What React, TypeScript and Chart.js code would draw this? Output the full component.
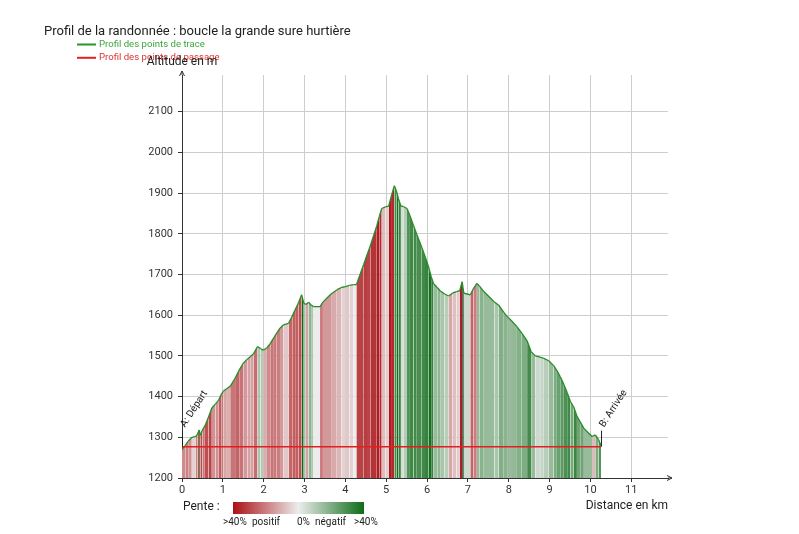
import React, { useEffect, useRef } from 'react';
import { Chart, registerables } from 'chart.js';

Chart.register(...registerables);

// ---- data ----
const distancesKm = [
  0.0, 0.08, 0.15, 0.24, 0.34, 0.38, 0.42, 0.45, 0.5, 0.56, 0.65, 0.73, 0.82, 0.89, 0.96, 1.01,
  1.1, 1.18, 1.3, 1.4, 1.5, 1.6, 1.67, 1.75, 1.85, 1.92, 1.99, 2.08, 2.16, 2.25, 2.32, 2.4,
  2.48, 2.61, 2.7, 2.77, 2.85, 2.93, 2.98, 3.03, 3.1, 3.16, 3.22, 3.38, 3.45, 3.55, 3.65, 3.79,
  3.9, 4.0, 4.1, 4.2, 4.27, 4.36, 4.45, 4.53, 4.61, 4.69, 4.77, 4.83, 4.89, 4.98, 5.06, 5.14,
  5.2, 5.25, 5.3, 5.36, 5.42, 5.51, 5.58, 5.67, 5.75, 5.87, 5.95, 6.04, 6.1, 6.16, 6.25, 6.32,
  6.43, 6.53, 6.62, 6.72, 6.8, 6.86, 6.9, 6.98, 7.06, 7.14, 7.22, 7.28, 7.39, 7.47, 7.55, 7.65,
  7.75, 7.88, 7.96, 8.08, 8.2, 8.32, 8.45, 8.55, 8.65, 8.77, 8.86, 8.98, 9.1, 9.18, 9.26, 9.35,
  9.43, 9.51, 9.59, 9.67, 9.75, 9.84, 9.96, 10.04, 10.12, 10.2, 10.26,
];
const altitudesM = [
  1270, 1280, 1290, 1300, 1302, 1308, 1318, 1305, 1318, 1328, 1350, 1372, 1382, 1390, 1405, 1413,
  1420, 1425, 1445, 1465, 1482, 1492, 1498, 1505, 1523, 1518, 1514, 1520, 1530, 1545, 1556, 1568,
  1576, 1580, 1598, 1613, 1630, 1650, 1630, 1626, 1632, 1625, 1621, 1621, 1632, 1642, 1652, 1662,
  1668, 1670, 1673, 1675, 1675, 1700, 1725, 1748, 1770, 1795, 1820, 1842, 1862, 1866, 1868, 1898,
  1918, 1905, 1886, 1868, 1867, 1862, 1845, 1820, 1798, 1767, 1745, 1718, 1695, 1677, 1668, 1660,
  1652, 1647, 1654, 1658, 1660, 1682, 1654, 1652, 1650, 1666, 1678, 1672, 1658, 1650, 1642, 1632,
  1625, 1607, 1597, 1585, 1572, 1556, 1537, 1510, 1500, 1497, 1494, 1488, 1476, 1464, 1449, 1430,
  1410, 1388, 1375, 1352, 1338, 1322, 1310, 1302, 1306, 1294, 1280,
];
const passageKm = [0, 10.26];
const passageAlt = [1277, 1277];
const passageLabels = ['A: Départ', 'B: Arrivée'];
const xTickValues = [0, 1, 2, 3, 4, 5, 6, 7, 8, 9, 10, 11];
const yTickValues = [1200, 1300, 1400, 1500, 1600, 1700, 1800, 1900, 2000, 2100];
const titleText = 'Profil de la randonnée : boucle la grande sure hurtière';
const legendLabels = ['Profil des points de trace', 'Profil des points de passage'];
const penteLabels = ['>40%', 'positif', '0%', 'négatif', '>40%'];
const xAxisTitle = 'Distance en km';
const yAxisTitle = 'Altitude en m';

// ---- styling helpers ----
const LIGHT = [236, 236, 236];
const RED = [170, 16, 20];
const GREEN = [14, 108, 24];
const DARK = [25, 22, 22];
const FONT = 'Roboto, "Noto Sans", sans-serif';

function mix(a: number[], b: number[], k: number) {
  return a.map((v, i) => Math.round(v + (b[i] - v) * k));
}
function slopeColor(s: number) {
  const base = s >= 0 ? RED : GREEN;
  const t = Math.abs(s) / 0.4;
  let c: number[];
  if (t <= 1) c = mix(LIGHT, base, Math.pow(t, 0.7));
  else c = mix(base, DARK, Math.min(1, (t - 1) * 0.8));
  return `rgb(${c[0]},${c[1]},${c[2]})`;
}

const decorPlugin = {
  id: 'decor',
  afterDraw(chart: any) {
    const { ctx, chartArea, scales } = chart;
    const xs = scales.x;
    const ys = scales.y;
    ctx.save();
    // title
    ctx.fillStyle = '#222';
    ctx.font = `13px ${FONT}`;
    ctx.textBaseline = 'alphabetic';
    ctx.textAlign = 'left';
    ctx.fillText(titleText, 44, 35);
    // legend
    const legendColors = ['rgb(40,150,40)', 'rgb(225,35,35)'];
    const legendText = ['rgb(60,165,60)', 'rgb(220,50,50)'];
    legendLabels.forEach((lab, i) => {
      const y = 44.5 + i * 13.3;
      ctx.strokeStyle = legendColors[i];
      ctx.lineWidth = 2;
      ctx.beginPath();
      ctx.moveTo(77, y);
      ctx.lineTo(96, y);
      ctx.stroke();
      ctx.fillStyle = legendText[i];
      ctx.font = `9.6px ${FONT}`;
      ctx.textBaseline = 'middle';
      ctx.fillText(lab, 99, y);
    });
    // axis arrows
    ctx.strokeStyle = '#333';
    ctx.lineWidth = 1;
    const ax = chartArea.left;
    const ay = chartArea.bottom;
    ctx.beginPath();
    ctx.moveTo(ax, chartArea.top);
    ctx.lineTo(ax, chartArea.top - 4);
    ctx.moveTo(ax - 2.5, chartArea.top + 1);
    ctx.lineTo(ax, chartArea.top - 4);
    ctx.lineTo(ax + 2.5, chartArea.top + 1);
    ctx.moveTo(chartArea.right, ay);
    ctx.lineTo(chartArea.right + 4, ay);
    ctx.moveTo(chartArea.right - 1, ay - 2.5);
    ctx.lineTo(chartArea.right + 4, ay);
    ctx.lineTo(chartArea.right - 1, ay + 2.5);
    ctx.stroke();
    // axis titles
    ctx.fillStyle = '#222';
    ctx.font = `12px ${FONT}`;
    ctx.textAlign = 'center';
    ctx.textBaseline = 'middle';
    ctx.fillText(yAxisTitle, ax, 62);
    ctx.textAlign = 'right';
    ctx.fillText(xAxisTitle, chartArea.right, 506);
    // pente legend
    ctx.textAlign = 'left';
    ctx.fillText('Pente :', 183, 507);
    const gx0 = 233, gx1 = 364;
    const grad = ctx.createLinearGradient(gx0, 0, gx1, 0);
    grad.addColorStop(0, `rgb(${RED.join(',')})`);
    grad.addColorStop(0.5, `rgb(${LIGHT.join(',')})`);
    grad.addColorStop(1, `rgb(${GREEN.join(',')})`);
    ctx.fillStyle = grad;
    ctx.fillRect(gx0, 502, gx1 - gx0, 12);
    ctx.fillStyle = '#222';
    ctx.font = `10px ${FONT}`;
    const penteX = [223, 252, 297, 315, 354];
    penteLabels.forEach((lab, i) => ctx.fillText(lab, penteX[i], 522));
    // passage annotations
    passageLabels.forEach((lab, i) => {
      const px = xs.getPixelForValue(passageKm[i]);
      const py = ys.getPixelForValue(passageAlt[i]);
      ctx.strokeStyle = '#222';
      ctx.lineWidth = 1;
      ctx.beginPath();
      ctx.moveTo(px + 0.5, py);
      ctx.lineTo(px + 0.5, py - 16);
      ctx.stroke();
      ctx.save();
      ctx.translate(px + 3, py - 19);
      ctx.rotate((-57 * Math.PI) / 180);
      ctx.fillStyle = '#222';
      ctx.font = `10px ${FONT}`;
      ctx.textAlign = 'left';
      ctx.textBaseline = 'alphabetic';
      ctx.fillText(lab, 0, 0);
      ctx.restore();
    });
    ctx.restore();
  },
};

export default function App() {
  const canvasRef = useRef<HTMLCanvasElement | null>(null);
  useEffect(() => {
    const canvas = canvasRef.current;
    if (!canvas) return;
    const profile = distancesKm.map((d, i) => ({ x: d, y: altitudesM[i] }));
    const passage = passageKm.map((d, i) => ({ x: d, y: passageAlt[i] }));
    const chart = new Chart(canvas, {
      type: 'line',
      data: {
        datasets: [
          {
            label: legendLabels[1],
            data: passage,
            borderColor: 'rgb(228,30,30)',
            borderWidth: 1.5,
            pointRadius: 0,
            fill: false,
            order: 0,
          },
          {
            label: legendLabels[0],
            data: profile,
            borderColor: 'rgb(40,140,40)',
            borderWidth: 1.3,
            pointRadius: 0,
            tension: 0,
            fill: 'start',
            backgroundColor: 'rgb(236,236,236)',
            segment: {
              backgroundColor: (c: any) =>
                slopeColor((c.p1.parsed.y - c.p0.parsed.y) / ((c.p1.parsed.x - c.p0.parsed.x) * 1000)),
            },
            order: 1,
          },
        ],
      },
      options: {
        responsive: false,
        animation: false,
        devicePixelRatio: 1,
        layout: { padding: { left: 0, top: 75, right: 131, bottom: 36 } },
        plugins: { legend: { display: false }, tooltip: { enabled: false }, title: { display: false } },
        scales: {
          x: {
            type: 'linear',
            min: 0,
            max: 11.9,
            afterBuildTicks: (s: any) => {
              s.ticks = xTickValues.map((v) => ({ value: v }));
            },
            afterFit: (s: any) => {
              s.height = 20;
            },
            grid: { color: 'rgb(205,205,205)', tickColor: '#333', tickLength: 4 },
            border: { color: '#333', width: 1 },
            ticks: {
              color: '#333',
              font: { family: FONT, size: 11 },
              padding: 2,
              maxRotation: 0,
              callback: (v: any) => String(v),
            },
          },
          y: {
            type: 'linear',
            min: 1200,
            max: 2190,
            afterBuildTicks: (s: any) => {
              s.ticks = yTickValues.map((v) => ({ value: v }));
            },
            afterFit: (s: any) => {
              s.width = 182;
            },
            grid: { color: 'rgb(205,205,205)', tickColor: '#333', tickLength: 4 },
            border: { color: '#333', width: 1 },
            ticks: {
              color: '#333',
              font: { family: FONT, size: 11 },
              padding: 5,
              callback: (v: any) => String(v),
            },
          },
        },
      },
      plugins: [decorPlugin],
    });
    return () => chart.destroy();
  }, []);
  return (
    <div style={{ position: 'fixed', left: 0, top: 0, width: 799, height: 534, background: '#fff' }}>
      <canvas ref={canvasRef} width={799} height={534} />
    </div>
  );
}
